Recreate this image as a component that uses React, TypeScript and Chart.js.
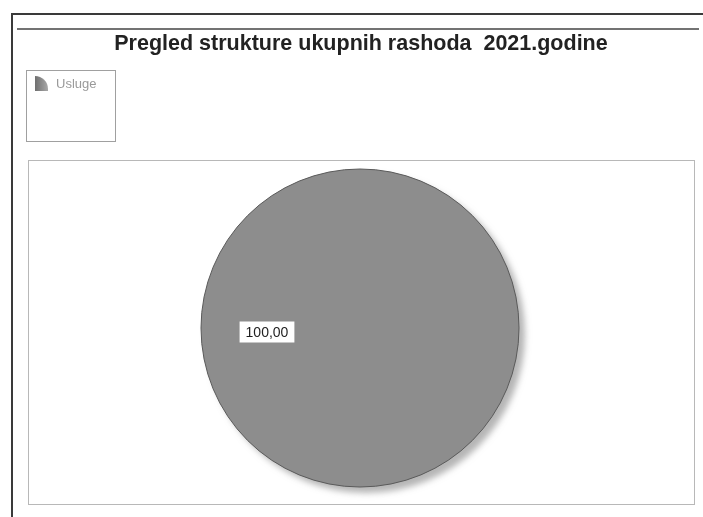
import React, { useEffect, useRef } from "react";
import { Chart, registerables } from "chart.js";

Chart.register(...registerables);

const TITLE = "Pregled strukture ukupnih rashoda  2021.godine";
const categories = ["Usluge"];
const values = [100];
const sliceColors = ["#8d8d8d"];

const framePlugin = {
  id: "frame",
  beforeDraw(chart: any) {
    const ctx = chart.ctx;
    ctx.save();
    ctx.fillStyle = "#ffffff";
    ctx.fillRect(0, 0, chart.width, chart.height);
    ctx.strokeStyle = "#3a3a3a";
    ctx.lineWidth = 2;
    ctx.beginPath();
    ctx.moveTo(11, 14);
    ctx.lineTo(703, 14);
    ctx.moveTo(12, 14);
    ctx.lineTo(12, 517);
    ctx.stroke();
    ctx.lineWidth = 1.6;
    ctx.strokeStyle = "#444";
    ctx.beginPath();
    ctx.moveTo(17, 29);
    ctx.lineTo(699, 29);
    ctx.stroke();
    ctx.strokeStyle = "#a0a0a0";
    ctx.lineWidth = 1;
    ctx.strokeRect(26.5, 70.5, 89, 71);
    ctx.strokeStyle = "#b8b8b8";
    ctx.strokeRect(28.5, 160.5, 666, 344);
    ctx.restore();
  },
};

const shadowPlugin = {
  id: "pieShadow",
  beforeDatasetDraw(chart: any) {
    const ctx = chart.ctx;
    ctx.save();
    ctx.shadowColor = "rgba(120,120,120,0.55)";
    ctx.shadowOffsetX = 6;
    ctx.shadowOffsetY = 6;
    ctx.shadowBlur = 6;
  },
  afterDatasetDraw(chart: any) {
    const ctx = chart.ctx;
    ctx.restore();
    const meta = chart.getDatasetMeta(0);
    const arc: any = meta.data[0];
    if (arc) {
      ctx.save();
      ctx.strokeStyle = "#5a5a5a";
      ctx.lineWidth = 1;
      ctx.beginPath();
      ctx.arc(arc.x, arc.y, arc.outerRadius, 0, Math.PI * 2);
      ctx.stroke();
      ctx.restore();
    }
  },
};

const labelPlugin = {
  id: "sliceLabels",
  afterDatasetsDraw(chart: any) {
    const ctx = chart.ctx;
    const meta = chart.getDatasetMeta(0);
    meta.data.forEach((arc: any, i: number) => {
      const mid = (arc.startAngle + arc.endAngle) / 2;
      const r = arc.outerRadius * 0.585;
      const x = arc.x + Math.cos(mid) * r;
      const y = arc.y + Math.sin(mid) * r + 4;
      const text = values[i].toFixed(2).replace(".", ",");
      ctx.save();
      ctx.font = "14px 'Liberation Sans', Arial, sans-serif";
      const w = ctx.measureText(text).width + 12;
      const h = 21;
      ctx.fillStyle = "#ffffff";
      ctx.fillRect(x - w / 2, y - h / 2, w, h);
      ctx.fillStyle = "#1e1e1e";
      ctx.textAlign = "center";
      ctx.textBaseline = "middle";
      ctx.fillText(text, x, y + 1);
      ctx.restore();
    });
  },
};

export default function App() {
  const canvasRef = useRef<HTMLCanvasElement | null>(null);

  useEffect(() => {
    if (!canvasRef.current) return;
    const chart = new Chart(canvasRef.current, {
      type: "pie",
      data: {
        labels: categories,
        datasets: [
          {
            data: values,
            backgroundColor: sliceColors,
            borderWidth: 0,
          },
        ],
      },
      options: {
        animation: false,
        responsive: false,
        maintainAspectRatio: false,
        rotation: 90,
        layout: { padding: { left: 201, right: 184, top: 169, bottom: 30 } },
        plugins: {
          legend: { display: false },
          title: { display: false },
          tooltip: { enabled: false },
        },
      },
      plugins: [framePlugin, shadowPlugin, labelPlugin],
    });
    return () => chart.destroy();
  }, []);

  return (
    <div style={{ position: "absolute", left: 0, top: 0, width: 703, height: 517, background: "#fff" }}>
      <canvas ref={canvasRef} width={703} height={517} style={{ position: "absolute", left: 0, top: 0 }} />
      <div
        style={{
          position: "absolute",
          left: 0,
          width: 722,
          top: 30,
          textAlign: "center",
          fontFamily: "'Liberation Sans', Arial, sans-serif",
          fontWeight: "bold",
          fontSize: 21.5,
          color: "#222",
          whiteSpace: "pre",
          lineHeight: "26px",
        }}
      >
        {TITLE}
      </div>
      {categories.map((c, i) => (
        <div
          key={c}
          style={{
            position: "absolute",
            left: 35,
            top: 76 + i * 18,
            display: "flex",
            alignItems: "center",
            fontFamily: "'Liberation Sans', Arial, sans-serif",
            fontSize: 13,
            color: "#9a9a9a",
          }}
        >
          <span
            style={{
              display: "inline-block",
              width: 13,
              height: 15,
              background: "linear-gradient(90deg, #6f6f6f, #a8a8a8)",
              borderTopRightRadius: 13,
              marginRight: 8,
            }}
          />
          <span>{c}</span>
        </div>
      ))}
    </div>
  );
}
